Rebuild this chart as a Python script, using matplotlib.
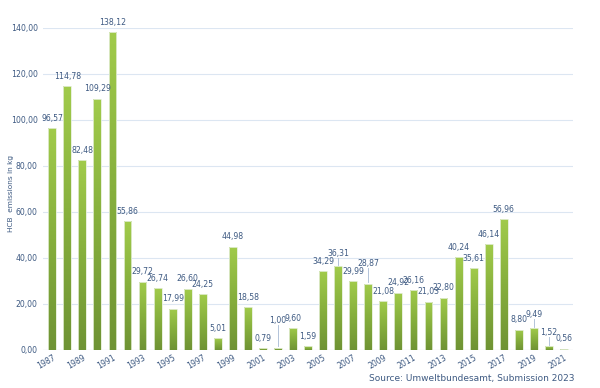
import numpy as np
import matplotlib.pyplot as plt
from matplotlib.colors import LinearSegmentedColormap

# Jahre und HCB-Emissionen (kg)
years = list(range(1987, 2022))
values = [96.57, 114.78, 82.48, 109.29, 138.12, 55.86, 29.72, 26.74, 17.99, 26.60,
          24.25, 5.01, 44.98, 18.58, 0.79, 1.00, 9.60, 1.59, 34.29, 36.31,
          29.99, 28.87, 21.08, 24.92, 26.16, 21.03, 22.80, 40.24, 35.61, 46.14,
          56.96, 8.80, 9.49, 1.52, 0.56]
tick_years = years[::2]
y_ticks = [0, 20, 40, 60, 80, 100, 120, 140]

text_col = '#3E5A82'
cmap = LinearSegmentedColormap.from_list('grn', ['#6F9334', '#86AF3D', '#A1CB4B'])

fig = plt.figure(figsize=(6, 3.88), dpi=100)
ax = fig.add_axes([0.072, 0.098, 0.883, 0.830])

x = np.arange(len(years))
w = 0.52
bars = ax.bar(x, values, width=w, color='none', edgecolor='#E4EED6', linewidth=0.6, zorder=3)

grad = np.linspace(0, 1, 256).reshape(-1, 1)
for b in bars:
    bx, by = b.get_x(), b.get_y()
    bw, bh = b.get_width(), b.get_height()
    im = ax.imshow(grad, cmap=cmap, origin='lower', aspect='auto',
                   extent=[bx, bx + bw, by, by + bh], zorder=2)
    im.set_clip_path(b)

# Beschriftungen: einige etwas angehoben (wie in Excel), mit Fuehrungslinie
lift = {2002: 7.5, 2006: 1.5, 2008: 4.5, 2019: 1.5, 2020: 2.0}
for yr, xi, v in zip(years, x, values):
    extra = lift.get(yr, 0)
    ty = v + 2.3 + extra
    if extra:
        ax.plot([xi, xi], [v + 0.6, ty], color='#A6B9D3', linewidth=0.6, zorder=4)
    ax.text(xi, ty, f'{v:.2f}'.replace('.', ','), ha='center', va='bottom',
            fontsize=5.6, color=text_col, zorder=5)

ax.set_xlim(-0.6, len(years) - 0.4)
ax.set_ylim(0, 140)
ax.set_yticks(y_ticks)
ax.set_yticklabels([f'{t:.2f}'.replace('.', ',') for t in y_ticks], fontsize=5.6, color=text_col)
ax.set_xticks([years.index(t) for t in tick_years])
ax.set_xticklabels([str(t) for t in tick_years], rotation=30, ha='right',
                   rotation_mode='anchor', fontsize=5.6, color=text_col)
ax.tick_params(axis='y', length=0, pad=4)
ax.tick_params(axis='x', length=0, pad=2)
ax.grid(axis='y', color='#DCE6F2', linewidth=0.8, zorder=0)
ax.set_axisbelow(True)
for s in ax.spines.values():
    s.set_visible(False)
ax.axhline(0, color='#D9D9D9', linewidth=0.8, zorder=1)

fig.text(0.018, 0.5, 'HCB  emissions in kg', rotation=90, ha='center', va='center',
         fontsize=5.3, color=text_col)
fig.text(0.957, 0.012, 'Source: Umweltbundesamt, Submission 2023', ha='right', va='bottom',
         fontsize=6.5, color=text_col)

plt.savefig('out.png', dpi=100)
